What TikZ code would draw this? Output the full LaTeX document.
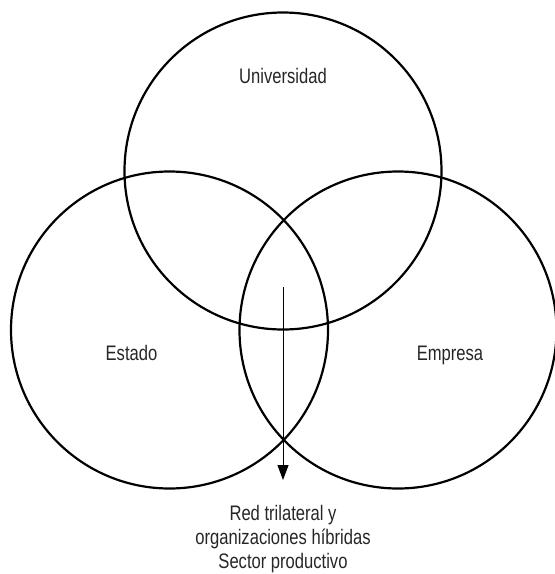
\documentclass[tikz,border=0pt]{standalone}
\usepackage{fontspec}
\setmainfont[FakeStretch=0.79]{Liberation Sans}
\usetikzlibrary{arrows.meta}
\tikzset{
  ring/.style={circle, draw=black, line width=2.2pt, minimum size=317pt, inner sep=0pt},
  lbl/.style={text=black!85, font=\fontsize{21}{24}\selectfont, inner sep=0pt, anchor=base},
  flow/.style={draw=black, line width=1pt, -{Triangle[length=15pt,width=11pt]}}
}
\begin{document}
\begin{tikzpicture}[x=1pt,y=-1pt]
\useasboundingbox (0,0) rectangle (555,574);
\node[ring] (uni) at (283,171) {};
\node[ring] (est) at (169.5,330) {};
\node[ring] (emp) at (398,330) {};
\node[lbl] (tuni) at (283,83) {Universidad};
\node[lbl] (test) at (131.5,360.5) {Estado};
\node[lbl] (temp) at (450,360.5) {Empresa};
\node[lbl, align=center] (red) at (283,568) {Red trilateral y\\organizaciones híbridas\\Sector productivo};
\coordinate (start) at (283,287);
\coordinate (tip) at (283,480);
\draw[flow] (start) -- (tip);
\end{tikzpicture}
\end{document}
